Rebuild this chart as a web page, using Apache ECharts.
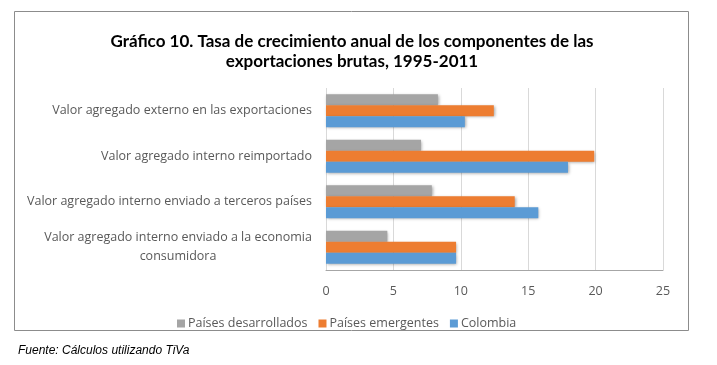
<!DOCTYPE html>
<html><head><meta charset="utf-8">
<script src="https://cdn.jsdelivr.net/npm/echarts@6/dist/echarts.min.js"></script>
<style>html,body{margin:0;padding:0;background:#fff}#c{width:717px;height:365px}</style>
</head><body><div id="c"></div>
<script>
const categories = [
  'Valor agregado externo en las exportaciones',
  'Valor agregado interno reimportado',
  'Valor agregado interno enviado a terceros países',
  'Valor agregado interno enviado a la economia\nconsumidora'
];
const seriesNames = ['Países desarrollados', 'Países emergentes', 'Colombia'];
const desarrollados = [8.3, 7.05, 7.85, 4.55];
const emergentes = [12.45, 19.9, 14.0, 9.65];
const colombia = [10.3, 17.95, 15.75, 9.65];
const xTicks = [0, 5, 10, 15, 20, 25];

const colors = ['#A5A5A5', '#ED7D31', '#5B9BD5'];
const values = [desarrollados, emergentes, colombia];
const labelFont = '"Open Sans", sans-serif';

const chart = echarts.init(document.getElementById('c'), null, {renderer: 'canvas'});
chart.setOption({
  animation: false,
  title: {
    text: 'Gráfico 10. Tasa de crecimiento anual de los componentes de las\nexportaciones brutas, 1995-2011',
    left: 347, top: 27, textAlign: 'center',
    textStyle: {fontFamily: 'Lato, sans-serif', fontWeight: 'bold', fontSize: 17, lineHeight: 20, color: '#000'}
  },
  graphic: [
    {type: 'rect', shape: {x: 14.5, y: 11.5, width: 674, height: 319}, style: {fill: 'none', stroke: '#8c8c8c', lineWidth: 1}, z: -1},
    {type: 'text', left: 18, top: 345, style: {text: 'Fuente: Cálculos utilizando TiVa', font: 'italic 12px "Liberation Sans", Arial, sans-serif', fill: '#000'}}
  ],
  legend: {
    data: seriesNames, left: 172, top: 312, icon: 'rect', itemWidth: 8, itemHeight: 8, itemGap: 11,
    textStyle: {fontFamily: labelFont, fontSize: 12.5, color: '#595959', padding: [0, 0, 0, -2]}
  },
  grid: {left: 326, right: 54, top: 88, bottom: 95},
  xAxis: {
    type: 'value', min: xTicks[0], max: xTicks[xTicks.length - 1], interval: 5,
    axisLine: {show: true, lineStyle: {color: '#A6A6A6'}},
    axisTick: {show: false},
    splitLine: {lineStyle: {color: '#D9D9D9'}},
    axisLabel: {margin: 15, fontFamily: labelFont, fontSize: 12.5, color: '#595959'}
  },
  yAxis: {
    type: 'category', data: categories, inverse: true,
    axisLine: {show: false}, axisTick: {show: false},
    axisLabel: {
      margin: 14, fontFamily: labelFont, fontSize: 12.5, color: '#595959', lineHeight: 19,
      formatter: function (v) {
        if (v.indexOf('\n') >= 0) {
          const p = v.split('\n');
          return '{a|' + p[0] + '}\n{a|' + p[1] + '}';
        }
        return v;
      },
      rich: {a: {width: 268, align: 'center', fontFamily: labelFont, fontSize: 12.5, color: '#595959', lineHeight: 19}}
    }
  },
  series: seriesNames.map((n, i) => ({
    name: n, type: 'bar', data: values[i], barWidth: 11, barGap: '0%',
    itemStyle: {color: colors[i], shadowColor: 'rgba(0,0,0,0.35)', shadowBlur: 3, shadowOffsetX: 1, shadowOffsetY: 1}
  }))
});
</script></body></html>
